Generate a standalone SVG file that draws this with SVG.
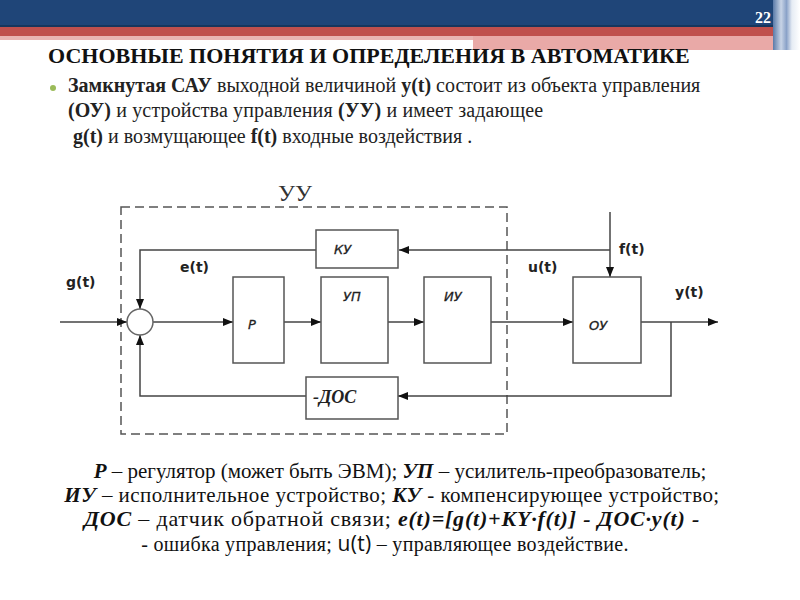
<svg xmlns="http://www.w3.org/2000/svg" width="800" height="600" viewBox="0 0 800 600">
<style>
.ser{font-family:"Liberation Serif","Times New Roman",serif}
.b{font-weight:bold}
.bi{font-weight:bold;font-style:italic}
.lbl{font-family:"DejaVu Sans",Verdana,sans-serif;font-weight:bold;font-size:14px;fill:#222}
.blk{font-family:"DejaVu Sans",Verdana,sans-serif;font-style:italic;font-size:13px;fill:#222;stroke:#222;stroke-width:0.3}
.box{fill:#fff;stroke:#555;stroke-width:1.5}
.ln{fill:none;stroke:#444;stroke-width:1.5}
</style>
<defs>
<marker id="ar" markerWidth="10" markerHeight="8" refX="10" refY="4" orient="auto" markerUnits="userSpaceOnUse">
<path d="M0,0 L10,4 L0,8 Z" fill="#111"/>
</marker>
<linearGradient id="edge" x1="0" y1="0" x2="1" y2="0">
<stop offset="0" stop-color="#5a7aa8"/>
<stop offset="0.3" stop-color="#c8d4e6"/>
<stop offset="0.5" stop-color="#8aa2c8"/>
<stop offset="0.7" stop-color="#e6ecf4"/>
<stop offset="1" stop-color="#ffffff"/>
</linearGradient>
</defs>
<rect width="800" height="600" fill="#fff"/>
<g id="header">
<rect x="0" y="0" width="800" height="26" fill="#1f4578"/>
<rect x="0" y="25" width="800" height="2" fill="#17365d"/>
<rect x="0" y="27" width="800" height="9" fill="#c0504d"/>
<rect x="0" y="36" width="473" height="4" fill="#e9b5b3"/>
<rect x="473" y="36" width="302" height="14" fill="#e9a9a7"/>
<rect x="773" y="0" width="27" height="50" fill="url(#edge)"/>
<text x="763" y="23" text-anchor="middle" class="ser b" font-size="16" fill="#fff">22</text>
</g>
<g id="title">
<text x="48" y="63" class="ser b" font-size="22" fill="#111">ОСНОВНЫЕ ПОНЯТИЯ И ОПРЕДЕЛЕНИЯ В АВТОМАТИКЕ</text>
</g>
<g id="bullet">
<circle cx="53" cy="88" r="3" fill="#9bbb59"/>
<text x="68" y="92" class="ser" font-size="20" fill="#222"><tspan class="b">Замкнутая САУ</tspan> выходной величиной <tspan class="b">y(t)</tspan> состоит из объекта управления</text>
<text x="68" y="117" class="ser" font-size="20" fill="#222" letter-spacing="0.15"><tspan class="b">(ОУ)</tspan> и устройства управления <tspan class="b">(УУ)</tspan> и имеет  задающее</text>
<text x="73" y="143" class="ser" font-size="20" fill="#222"><tspan class="b">g(t)</tspan> и возмущающее <tspan class="b">f(t)</tspan> входные воздействия .</text>
</g>
<g id="uu-boundary">
<rect x="121" y="207" width="386" height="227" fill="none" stroke="#555" stroke-width="1.5" stroke-dasharray="9,5"/>
<text x="295" y="201" text-anchor="middle" class="ser" font-size="24" fill="#333">УУ</text>
</g>
<g id="connectors">
<path class="ln" d="M60,322 H127" marker-end="url(#ar)"/>
<path class="ln" d="M153,322 H233" marker-end="url(#ar)"/>
<path class="ln" d="M284,322 H321" marker-end="url(#ar)"/>
<path class="ln" d="M388,322 H424" marker-end="url(#ar)"/>
<path class="ln" d="M491,322 H573" marker-end="url(#ar)"/>
<path class="ln" d="M641,322 H718" marker-end="url(#ar)"/>
<path class="ln" d="M671,322 V396 H398" marker-end="url(#ar)"/>
<path class="ln" d="M306,396 H140 V335" marker-end="url(#ar)"/>
<path class="ln" d="M610,212 V277" marker-end="url(#ar)"/>
<path class="ln" d="M610,250 H399" marker-end="url(#ar)"/>
<path class="ln" d="M316,250 H140 V309" marker-end="url(#ar)"/>
</g>
<g id="sum">
<circle cx="140" cy="322" r="13" fill="#fff" stroke="#666" stroke-width="1.5"/>
</g>
<g id="ky"><rect class="box" x="316" y="230" width="82" height="38"/><text x="334" y="254" class="blk">КУ</text></g>
<g id="p"><rect class="box" x="233" y="277" width="51" height="86"/><text x="248" y="329" class="blk">Р</text></g>
<g id="yp"><rect class="box" x="321" y="277" width="67" height="86"/><text x="343" y="301" class="blk">УП</text></g>
<g id="iy"><rect class="box" x="424" y="277" width="67" height="86"/><text x="444" y="301" class="blk">ИУ</text></g>
<g id="oy"><rect class="box" x="573" y="277" width="68" height="86"/><text x="589" y="330" class="blk">ОУ</text></g>
<g id="dos"><rect class="box" x="306" y="377" width="92" height="42"/><text x="313" y="403" class="ser bi" font-size="18" fill="#222">-ДОС</text></g>
<g id="labels">
<text x="66" y="287" class="lbl">g(t)</text>
<text x="180" y="272" class="lbl">e(t)</text>
<text x="528" y="272" class="lbl">u(t)</text>
<text x="619" y="254" class="lbl">f(t)</text>
<text x="675" y="297" class="lbl">y(t)</text>
</g>
<g id="legend">
<text x="400" y="478" text-anchor="middle" class="ser" font-size="21" fill="#111"><tspan class="bi">Р</tspan> – регулятор (может быть ЭВМ); <tspan class="bi">УП</tspan> – усилитель-преобразователь;</text>
<text x="392" y="502" text-anchor="middle" class="ser" font-size="21" fill="#111" letter-spacing="0.45"><tspan class="bi">ИУ</tspan> – исполнительное устройство;  <tspan class="bi">КУ</tspan> - компенсирующее устройство;</text>
<text x="392" y="526" text-anchor="middle" class="ser" font-size="22" fill="#111" letter-spacing="0.8"><tspan class="bi">ДОС</tspan> – датчик обратной связи;  <tspan class="bi">e(t)=[g(t)+KY·f(t)] - ДОС·y(t) -</tspan></text>
<text x="385" y="551" text-anchor="middle" class="ser" font-size="20" fill="#111" letter-spacing="0.3">- ошибка управления; <tspan font-family="'Open Sans','Liberation Sans',sans-serif" font-size="21">u(t)</tspan> – управляющее воздействие.</text>
</g>
</svg>
